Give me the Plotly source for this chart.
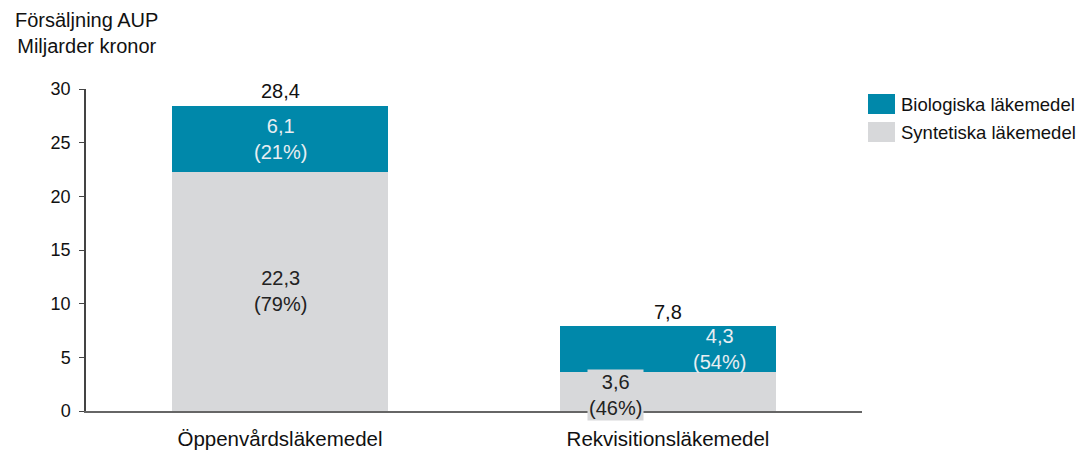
import plotly.graph_objects as go

categories = ["Öppenvårdsläkemedel", "Rekvisitionsläkemedel"]
syntetiska = [22.3, 3.6]
biologiska = [6.1, 4.3]
totals = [28.4, 7.8]
syn_pct = ["79%", "46%"]
bio_pct = ["21%", "54%"]
y_ticks = [0, 5, 10, 15, 20, 25, 30]

BLUE = "#0088AA"
GREY = "#D7D8DA"
FONT = "Arial, Liberation Sans, sans-serif"

W, H = 1077, 455
L, R, T, B = 86, 1077 - 862, 89, 455 - 411
PW, PH = W - L - R, H - T - B

def px(xp):
    return (xp - L) / PW

def py(yp):
    return (H - B - yp) / PH

def fmt(v):
    return f"{v:.1f}".replace(".", ",")

fig = go.Figure()
fig.add_trace(go.Bar(x=categories, y=syntetiska, name="Syntetiska läkemedel",
                     marker=dict(color=GREY, line=dict(width=0)), width=0.555,
                     hoverinfo="skip"))
fig.add_trace(go.Bar(x=categories, y=biologiska, name="Biologiska läkemedel",
                     marker=dict(color=BLUE, line=dict(width=0)), width=0.555,
                     hoverinfo="skip"))

ann = []
# totals
for c, t in zip(categories, totals):
    ann.append(dict(x=c, y=t, text=fmt(t), showarrow=False, yanchor="bottom", yshift=2,
                    font=dict(size=20, color="#111", family=FONT)))
# segment labels
xshift_syn = [0, -53]
xshift_bio = [0, 51]
for i, c in enumerate(categories):
    s, b = syntetiska[i], biologiska[i]
    a = dict(x=c, y=s / 2, text=f"{fmt(s)}<br>({syn_pct[i]})", showarrow=False,
             xshift=xshift_syn[i], font=dict(size=20, color="#222", family=FONT))
    if i == 1:
        a.update(bgcolor=GREY, borderpad=1, yshift=-3)
    ann.append(a)
    ann.append(dict(x=c, y=s + b / 2, text=f"{fmt(b)}<br>({bio_pct[i]})", showarrow=False,
                    xshift=xshift_bio[i], font=dict(size=20, color="#E8EEF2", family=FONT)))

# axis title
ann.append(dict(xref="paper", yref="paper", x=px(86), y=py(33), xanchor="center",
                yanchor="middle", text="Försäljning AUP<br>Miljarder kronor", showarrow=False,
                font=dict(size=20, color="#111", family=FONT)))

# manual legend
shapes = []
legend_items = [("Biologiska läkemedel", BLUE, 94), ("Syntetiska läkemedel", GREY, 122)]
for name, col, top in legend_items:
    shapes.append(dict(type="rect", xref="paper", yref="paper", x0=px(868), x1=px(895),
                       y0=py(top + 20), y1=py(top), fillcolor=col, line=dict(width=0)))
    ann.append(dict(xref="paper", yref="paper", x=px(899), y=py(top + 10), xanchor="left",
                    yanchor="middle", text=name, showarrow=False,
                    font=dict(size=18.5, color="#111", family=FONT)))

fig.update_layout(
    barmode="stack",
    width=W, height=H,
    margin=dict(l=L, r=R, t=T, b=B, pad=0),
    paper_bgcolor="white", plot_bgcolor="white",
    showlegend=False,
    annotations=ann, shapes=shapes,
    font=dict(family=FONT, size=18, color="#111"),
    xaxis=dict(range=[-0.5, 1.5], showline=True, linecolor="#666", linewidth=1.5,
               ticks="", showgrid=False, zeroline=False, ticklabelstandoff=9,
               automargin=False,
               tickfont=dict(size=20.5, color="#111", family=FONT)),
    yaxis=dict(range=[0, 30], tickvals=y_ticks, showline=True, linecolor="#444",
               linewidth=1.5, ticks="outside", ticklen=5, tickcolor="#444",
               showgrid=False, zeroline=False, ticklabelstandoff=5, automargin=False,
               tickfont=dict(size=18, color="#111", family=FONT)),
)

fig.write_html("out.html", config={"displayModeBar": False},
               post_script="document.body.style.margin='0';")
